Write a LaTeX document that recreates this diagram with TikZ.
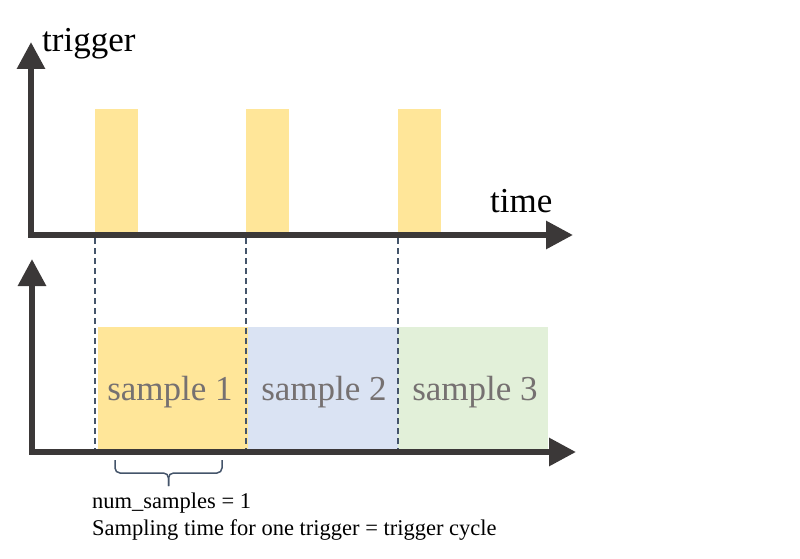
\documentclass[tikz,border=0pt]{standalone}
\usepackage{fontspec}
\setmainfont{Liberation Serif}
\usetikzlibrary{arrows.meta}
\definecolor{axisc}{HTML}{3B3838}
\definecolor{barc}{HTML}{FFE699}
\definecolor{bluec}{HTML}{DAE3F3}
\definecolor{greenc}{HTML}{E2F0D9}
\definecolor{dashc}{HTML}{44546A}
\definecolor{samplec}{HTML}{767171}
\tikzset{
  axis/.style={draw=axisc, line width=6pt, line join=miter,
    {Triangle[length=27pt,width=27pt]}-{Triangle[length=27pt,width=27pt]}},
  bar/.style={fill=barc, draw=none, inner sep=0pt, minimum width=43pt, minimum height=126pt, anchor=south west},
  samplebox/.style={draw=none, inner sep=0pt, minimum width=150pt, minimum height=125pt, anchor=south west},
  sampletext/.style={text=samplec, font=\fontsize{35}{40}\selectfont, anchor=base, inner sep=0pt},
  guide/.style={draw=dashc, line width=1.5pt, dash pattern=on 6pt off 4pt},
  label/.style={font=\fontsize{35}{40}\selectfont, anchor=base west, inner sep=0pt},
  note/.style={font=\fontsize{22.5}{27}\selectfont, anchor=base west, inner sep=0pt},
  bracec/.style={draw=dashc, line width=1.5pt, rounded corners=5pt}
}
\begin{document}
\begin{tikzpicture}[x=1pt,y=-1pt]
\useasboundingbox (0,0) rectangle (800,559);
% trigger bars
\node[bar] (b1) at (95,235) {};
\node[bar] (b2) at (246,235) {};
\node[bar] (b3) at (398,235) {};
% sample boxes
\node[samplebox, fill=barc] (s1) at (98,452) {};
\node[samplebox, fill=bluec] (s2) at (248,452) {};
\node[samplebox, fill=greenc] (s3) at (398,452) {};
\node[sampletext] (t1) at (170,400) {sample 1};
\node[sampletext] (t2) at (324,400) {sample 2};
\node[sampletext] (t3) at (475,400) {sample 3};
% guides
\coordinate (g1a) at (95,238); \coordinate (g1b) at (95,450);
\coordinate (g2a) at (246,238); \coordinate (g2b) at (246,450);
\coordinate (g3a) at (398,238); \coordinate (g3b) at (398,450);
\draw[guide] (g1a) -- (g1b);
\draw[guide] (g2a) -- (g2b);
\draw[guide] (g3a) -- (g3b);
% axes
\coordinate (ta) at (31,42); \coordinate (tc) at (31,235); \coordinate (tb) at (573,235);
\draw[axis] (ta) -- (tc) -- (tb);
\coordinate (ba) at (32,259); \coordinate (bc) at (32,452); \coordinate (bb) at (576,452);
\draw[axis] (ba) -- (bc) -- (bb);
% labels
\node[label] (trig) at (42,52) {trigger};
\node[label] (time) at (490,212) {time};
% brace
\coordinate (bl) at (115,460); \coordinate (br) at (222,460);
\coordinate (bm) at (168.5,473); \coordinate (btip) at (168.5,486);
\draw[bracec] (bl) |- (bm) -- (btip);
\draw[bracec] (br) |- (bm) -- (btip);
% notes
\node[note] (n1) at (92,508) {num\_samples = 1};
\node[note] (n2) at (92,535) {Sampling time for one trigger = trigger cycle};
\end{tikzpicture}
\end{document}
